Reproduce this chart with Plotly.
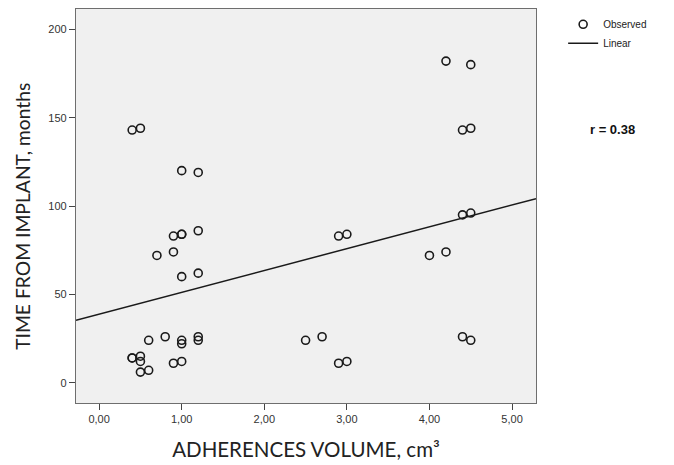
import plotly.graph_objects as go
import numpy as np

# Observed data (adherences volume cm3, time from implant months)
volume = [0.4, 0.5, 1.0, 1.2, 4.2, 4.5, 4.4, 4.5,
          0.7, 0.9, 1.0, 1.0, 1.2, 0.9, 1.0, 1.2, 2.9, 3.0, 4.0, 4.2, 4.4, 4.5,
          4.4, 4.5, 2.5, 2.7, 2.9, 3.0,
          0.4, 0.4, 0.5, 0.5, 0.5, 0.6, 0.6, 0.8, 0.9, 1.0, 1.0, 1.0, 1.2, 1.2]
months = [143, 144, 120, 119, 182, 180, 143, 144,
          72, 83, 84, 84, 86, 74, 60, 62, 83, 84, 72, 74, 95, 96,
          26, 24, 24, 26, 11, 12,
          14, 14, 15, 12, 6, 7, 24, 26, 11, 12, 24, 22, 26, 24]

# Linear fit
fit_intercept = 38.8
fit_slope = 12.35
r_value = 0.38

x_range = [-0.28, 5.29]
y_range = [-11.5, 211.5]
x_ticks = [0, 1, 2, 3, 4, 5]
x_ticktext = ["0,00", "1,00", "2,00", "3,00", "4,00", "5,00"]
y_ticks = [0, 50, 100, 150, 200]

line_x = np.array(x_range)
line_y = fit_intercept + fit_slope * line_x

fig = go.Figure()
fig.add_trace(go.Scatter(
    x=volume, y=months, mode="markers", name="Observed",
    marker=dict(symbol="circle-open", size=8, color="#1a1a1a", line=dict(width=1.6, color="#1a1a1a")),
))
fig.add_trace(go.Scatter(
    x=line_x, y=line_y, mode="lines", name="Linear",
    line=dict(color="#1a1a1a", width=1.5),
))

fig.add_annotation(
    xref="paper", yref="paper", x=1.112, y=0.694, xanchor="left", yanchor="middle",
    text=f"<b>r = {r_value:.2f}</b>", showarrow=False,
    font=dict(family="Liberation Sans, Arial", size=13, color="#111"),
)
# y-axis title (placed slightly below centre, as in the reference)
fig.add_annotation(
    xref="paper", yref="paper", x=-0.117, y=0.473, xanchor="center", yanchor="middle",
    text="TIME FROM IMPLANT, months", textangle=-90, showarrow=False,
    font=dict(family="Lato, Open Sans", size=19.3, color="#222"),
)

fig.update_layout(
    width=674, height=465,
    margin=dict(l=68, r=146, t=1, b=70),
    paper_bgcolor="white", plot_bgcolor="#f0f0f0",
    showlegend=True,
    legend=dict(x=1.059, y=0.998, xanchor="left", yanchor="top",
                font=dict(family="Liberation Sans, Arial", size=10, color="#222"),
                itemwidth=30, tracegroupgap=0, bgcolor="rgba(0,0,0,0)"),
    font=dict(family="Liberation Sans, Arial", color="#333"),
)
fig.update_xaxes(
    range=x_range, tickvals=x_ticks, ticktext=x_ticktext,
    showgrid=False, zeroline=False,
    showline=True, mirror=True, linecolor="#6e6e6e", linewidth=1.2,
    ticks="outside", ticklen=6, tickwidth=1.3, tickcolor="#444",
    tickfont=dict(size=11, color="#333"),
    title=dict(text="ADHERENCES VOLUME, cm³", standoff=18,
               font=dict(family="Lato, Open Sans", size=20.5, color="#222")),
)
fig.update_yaxes(
    range=y_range, tickvals=y_ticks,
    showgrid=False, zeroline=False,
    showline=True, mirror=True, linecolor="#6e6e6e", linewidth=1.2,
    ticks="outside", ticklen=6, tickwidth=1.3, tickcolor="#444",
    tickfont=dict(size=11, color="#333"),
)

fig.write_html("out.html")
